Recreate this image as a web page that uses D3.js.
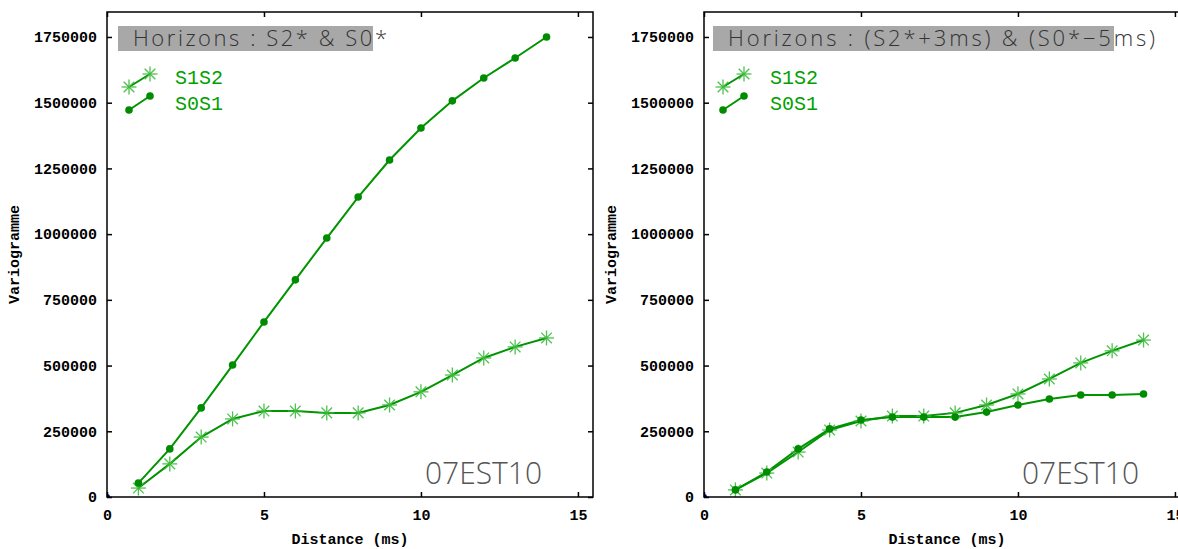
<!DOCTYPE html>
<html><head><meta charset="utf-8">
<script src="https://cdn.jsdelivr.net/npm/d3@7"></script>
<style>body{margin:0;background:#fff}svg{display:block}</style>
</head><body>
<script>
const distances = [1,2,3,4,5,6,7,8,9,10,11,12,13,14];
const leftS1S2 = [34000,126000,228000,297000,327000,327000,320000,320000,350000,400000,464000,529000,571000,605000];
const leftS0S1 = [53000,183000,339000,502000,666000,826000,985000,1141000,1282000,1404000,1507000,1594000,1670000,1750000];
const rightS1S2 = [27000,91000,171000,255000,289000,308000,308000,320000,350000,392000,449000,510000,556000,597000];
const rightS0S1 = [27000,95000,183000,259000,293000,304000,304000,304000,323000,350000,373000,388000,388000,392000];
const xTicks = [0,5,10,15];
const yTicks = [0,250000,500000,750000,1000000,1250000,1500000,1750000];
const titles = ["Horizons : S2* & S0*", "Horizons : (S2*+3ms) & (S0*\u22125ms)"];
const seriesNames = ["S1S2","S0S1"];
const stamp = "07EST10";

const W=1178,H=549;
const svg=d3.select("body").append("svg").attr("width",W).attr("height",H);
svg.append("rect").attr("width",W).attr("height",H).attr("fill","#fff");

const panels=[
  {x0:107, s1:leftS1S2, s0:leftS0S1, title:titles[0], titleBox:[118,373], titleLen:254},
  {x0:704, s1:rightS1S2, s0:rightS0S1, title:titles[1], titleBox:[713,1114], titleLen:427}
];
const PW=486, TOP=12, BOT=497;
const lineCol="#009400", starCol="#3dbb3d", dotCol="#008c00", txtGreen="#00a000";
const mono="'Liberation Mono','DejaVu Sans Mono',monospace";
const light="'Open Sans','DejaVu Sans',sans-serif";

function star(g,x,y,r){
  for(let k=0;k<4;k++){
    const a=k*Math.PI/4;
    g.append("line").attr("x1",x-r*Math.cos(a)).attr("y1",y-r*Math.sin(a))
     .attr("x2",x+r*Math.cos(a)).attr("y2",y+r*Math.sin(a))
     .attr("stroke",starCol).attr("stroke-width",1.3).attr("opacity",0.9);
  }
}

panels.forEach((p,i)=>{
  const x=d3.scaleLinear().domain([0,15.48]).range([p.x0,p.x0+PW]);
  const y=d3.scaleLinear().domain([0,1845000]).range([BOT,TOP]);
  const g=svg.append("g");
  const clipId="clip"+i;
  svg.append("clipPath").attr("id",clipId).append("rect")
    .attr("x",p.x0).attr("y",TOP).attr("width",PW).attr("height",BOT-TOP);

  // title box
  g.append("rect").attr("x",p.titleBox[0]).attr("y",26).attr("width",p.titleBox[1]-p.titleBox[0]).attr("height",25).attr("fill","#a8a8a8");
  g.append("text").attr("x",p.titleBox[0]+15).attr("y",46).attr("font-family",light)
   .attr("font-weight",300).attr("font-size",22).attr("fill","#333").attr("textLength",p.titleLen).attr("lengthAdjust","spacing").text(p.title);

  // legend
  const lx=p.x0+(i?19:22);
  const lg=g.append("g");
  lg.append("line").attr("x1",lx).attr("y1",87).attr("x2",lx+21).attr("y2",74).attr("stroke",lineCol).attr("stroke-width",2);
  star(lg,lx,87,7.5); star(lg,lx+21,74,7.5);
  lg.append("line").attr("x1",lx).attr("y1",110).attr("x2",lx+21).attr("y2",96).attr("stroke",lineCol).attr("stroke-width",2);
  lg.append("circle").attr("cx",lx).attr("cy",110).attr("r",3.8).attr("fill",dotCol);
  lg.append("circle").attr("cx",lx+21).attr("cy",96).attr("r",3.8).attr("fill",dotCol);
  lg.append("text").attr("x",p.x0+(i?66:68)).attr("y",84).attr("font-family",mono).attr("font-size",20).attr("fill",txtGreen).text(seriesNames[0]);
  lg.append("text").attr("x",p.x0+(i?66:68)).attr("y",110).attr("font-family",mono).attr("font-size",20).attr("fill",txtGreen).text(seriesNames[1]);

  // stamp
  g.append("text").attr("x",p.x0+318).attr("y",484).attr("font-family",light)
   .attr("font-weight",300).attr("font-size",31).attr("fill","#555").attr("textLength",117).attr("lengthAdjust","spacingAndGlyphs").text(stamp);

  // data
  const dg=g.append("g").attr("clip-path",`url(#${clipId})`);
  const line=d3.line().x((d,j)=>x(distances[j])).y(d=>y(d));
  dg.append("path").attr("d",line(p.s0)).attr("fill","none").attr("stroke",lineCol).attr("stroke-width",2);
  dg.append("path").attr("d",line(p.s1)).attr("fill","none").attr("stroke",lineCol).attr("stroke-width",2);
  p.s1.forEach((v,j)=>star(dg,x(distances[j]),y(v),7.5));
  p.s0.forEach((v,j)=>dg.append("circle").attr("cx",x(distances[j])).attr("cy",y(v)).attr("r",3.8).attr("fill",dotCol));
  dg.append("circle").attr("cx",x(0)).attr("cy",y(0)).attr("r",3).attr("fill","#0000cc");

  // axes
  const axFont=g=>g.selectAll("text").attr("font-family",mono).attr("font-weight","bold").attr("font-size",15).attr("fill","#000");
  g.append("g").attr("transform",`translate(0,${BOT})`)
    .call(d3.axisBottom(x).tickValues(xTicks).tickSizeInner(-5).tickSizeOuter(0).tickPadding(12))
    .call(a=>a.select(".domain").remove()).call(axFont)
    .call(a=>a.selectAll("line").attr("stroke-width",1.5));
  g.append("g").attr("transform",`translate(0,${TOP})`)
    .call(d3.axisTop(x).tickValues(xTicks).tickSizeInner(-5).tickSizeOuter(0).tickFormat(""))
    .call(a=>a.select(".domain").remove()).call(a=>a.selectAll("line").attr("stroke-width",1.5));
  g.append("g").attr("transform",`translate(${p.x0},0)`)
    .call(d3.axisLeft(y).tickValues(yTicks).tickSizeInner(-5).tickSizeOuter(0).tickPadding(10).tickFormat(d3.format("d")))
    .call(a=>a.select(".domain").remove()).call(axFont)
    .call(a=>a.selectAll("line").attr("stroke-width",1.5));
  g.append("g").attr("transform",`translate(${p.x0+PW},0)`)
    .call(d3.axisRight(y).tickValues(yTicks).tickSizeInner(-5).tickSizeOuter(0).tickFormat(""))
    .call(a=>a.select(".domain").remove()).call(a=>a.selectAll("line").attr("stroke-width",1.5));
  g.append("rect").attr("x",p.x0).attr("y",TOP).attr("width",PW).attr("height",BOT-TOP).attr("fill","none").attr("stroke","#000").attr("stroke-width",1.5);

  // axis titles
  g.append("text").attr("x",p.x0+PW/2).attr("y",544).attr("text-anchor","middle").attr("font-family",mono)
   .attr("font-weight","bold").attr("font-size",15).text("Distance (ms)");
  g.append("text").attr("transform",`translate(${p.x0-88},${(TOP+BOT)/2}) rotate(-90)`).attr("text-anchor","middle")
   .attr("font-family",mono).attr("font-weight","bold").attr("font-size",15).text("Variogramme");
});
</script>
</body></html>
